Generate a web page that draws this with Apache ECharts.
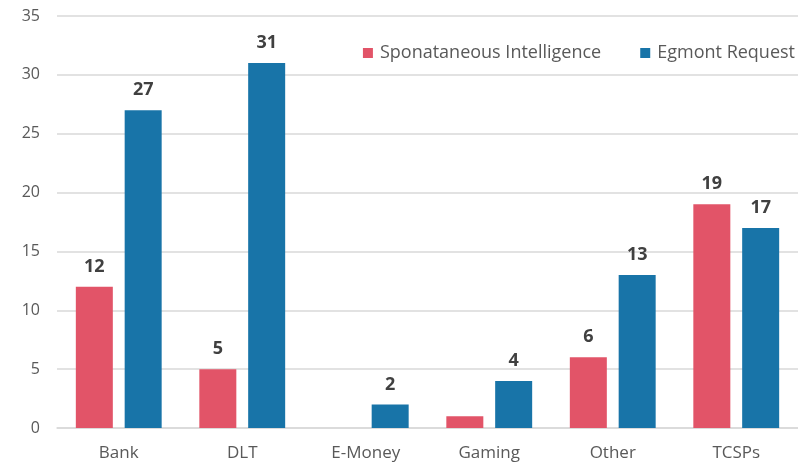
<!DOCTYPE html>
<html>
<head>
<meta charset="utf-8">
<script src="https://cdn.jsdelivr.net/npm/echarts@6/dist/echarts.min.js"></script>
<style>
  html, body { margin: 0; padding: 0; background: #fff; }
  #chart { width: 798px; height: 468px; }
</style>
</head>
<body>
<div id="chart"></div>
<script>
const categories = ['Bank', 'DLT', 'E-Money', 'Gaming', 'Other', 'TCSPs']
const spontaneous = [12, 5, null, 1, 6, 19]
const egmont = [27, 31, 2, 4, 13, 17]
// items whose value label is not shown in the original
const hiddenLabels = [3]

const chart = echarts.init(document.getElementById('chart'))
const font = 'Open Sans'

const option = {
  animation: false,
  color: ['#E25468', '#1874A8'],
  legend: {
    top: 44,
    right: 3,
    padding: 0,
    itemWidth: 10,
    itemHeight: 10,
    itemGap: 39,
    icon: 'rect',
    textStyle: { color: '#595959', fontSize: 18, fontFamily: font, padding: [0, 0, 0, 2] }
  },
  grid: { left: 57, top: 16, width: 744, bottom: 40 },
  xAxis: {
    type: 'category',
    data: categories,
    axisLine: { lineStyle: { color: '#d9d9d9', width: 1.5 } },
    axisTick: { show: false },
    axisLabel: { color: '#595959', fontSize: 17, fontFamily: font, margin: 17 }
  },
  yAxis: {
    type: 'value',
    min: 0,
    max: 35,
    interval: 5,
    axisLine: { show: false },
    axisTick: { show: false },
    splitLine: { lineStyle: { color: '#d9d9d9', width: 1.5 } },
    axisLabel: { color: '#595959', fontSize: 16, fontFamily: font, margin: 17 }
  },
  series: [
    {
      name: 'Sponataneous Intelligence',
      type: 'bar',
      barWidth: 37,
      barGap: '32%',
      data: spontaneous.map((v, i) => hiddenLabels.includes(i) ? { value: v, label: { show: false } } : v),
      label: { show: true, position: 'top', distance: 11, color: '#404040', fontSize: 18, fontWeight: 'bold', fontFamily: font }
    },
    {
      name: 'Egmont Request',
      type: 'bar',
      barWidth: 37,
      data: egmont,
      label: { show: true, position: 'top', distance: 11, color: '#404040', fontSize: 18, fontWeight: 'bold', fontFamily: font }
    }
  ]
}
chart.setOption(option)
</script>
</body>
</html>
